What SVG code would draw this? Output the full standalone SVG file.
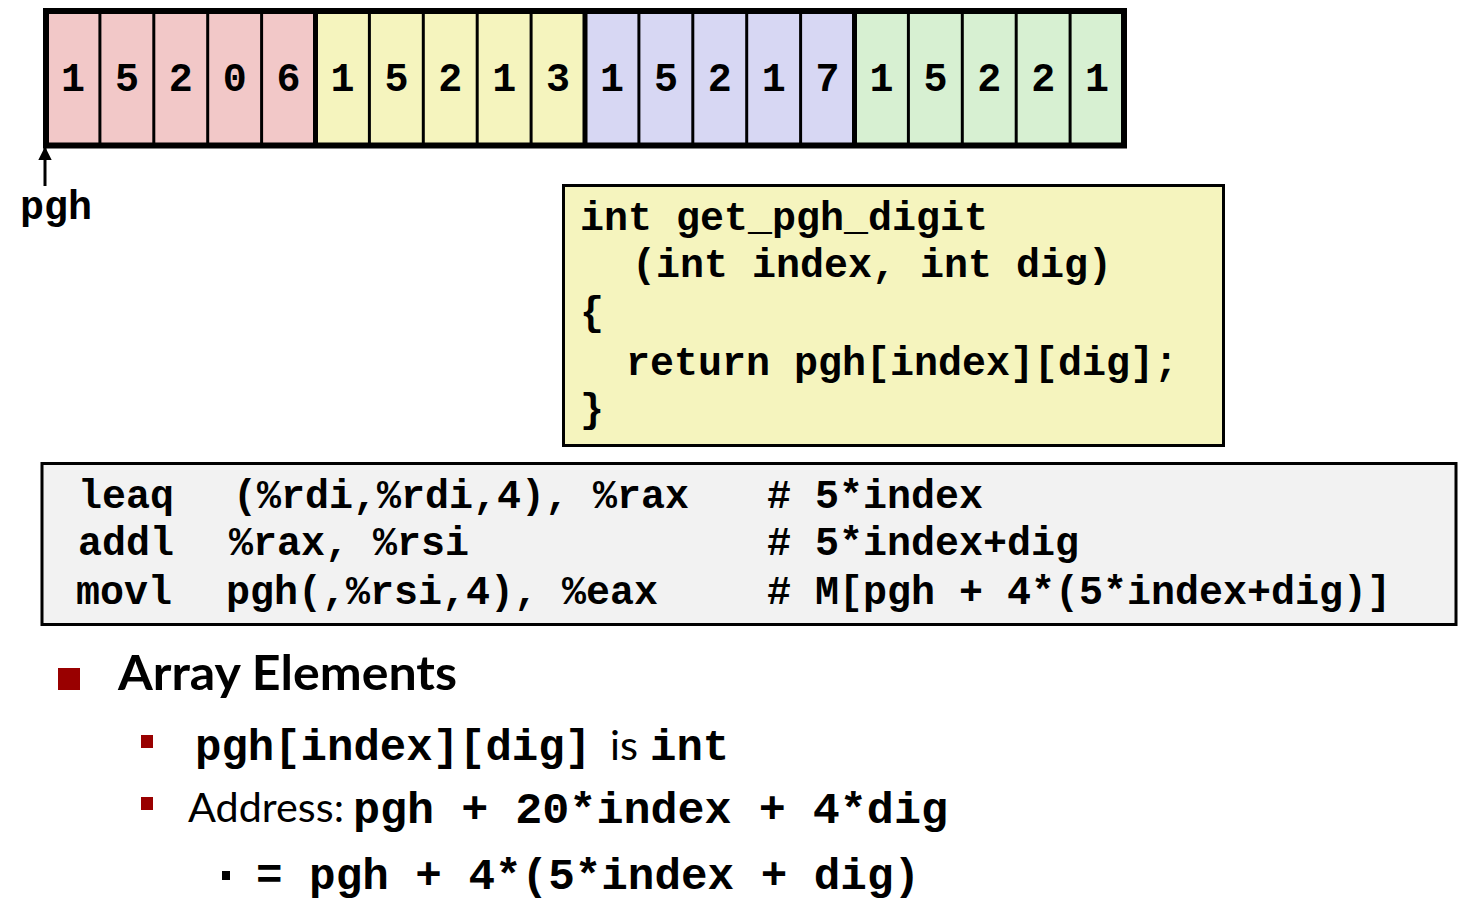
<svg xmlns="http://www.w3.org/2000/svg" width="1463" height="909" viewBox="0 0 1463 909">
<style>
.mono{font-family:"Liberation Mono","Courier New",monospace;font-weight:bold;fill:#000}
.cell{font-size:40px;text-anchor:middle}
.code{font-size:40px}
.big{font-size:44px}
.sans{font-family:Lato,"Open Sans",sans-serif;fill:#000}
.div1{stroke:#000;stroke-width:3}
.div2{stroke:#000;stroke-width:5}
</style>
<defs>
<marker id="ah" viewBox="0 0 10 10" refX="9" refY="5" markerWidth="4.5" markerHeight="4.5" orient="auto">
<path d="M0,0 L10,5 L0,10 z" fill="#000"/>
</marker>
</defs>
<rect width="1463" height="909" fill="#fff"/>

<g id="array">
<rect x="46" y="11" width="269.5" height="134.5" fill="#F2C8C8"/>
<rect x="315.5" y="11" width="269.5" height="134.5" fill="#F5F4BE"/>
<rect x="585" y="11" width="269.5" height="134.5" fill="#D7D7F3"/>
<rect x="854.5" y="11" width="269.5" height="134.5" fill="#D7F0D2"/>
<g>
<line class="div1" x1="99.9" y1="11" x2="99.9" y2="145.5"/>
<line class="div1" x1="153.8" y1="11" x2="153.8" y2="145.5"/>
<line class="div1" x1="207.7" y1="11" x2="207.7" y2="145.5"/>
<line class="div1" x1="261.6" y1="11" x2="261.6" y2="145.5"/>
<line class="div2" x1="315.5" y1="11" x2="315.5" y2="145.5"/>
<line class="div1" x1="369.4" y1="11" x2="369.4" y2="145.5"/>
<line class="div1" x1="423.3" y1="11" x2="423.3" y2="145.5"/>
<line class="div1" x1="477.2" y1="11" x2="477.2" y2="145.5"/>
<line class="div1" x1="531.1" y1="11" x2="531.1" y2="145.5"/>
<line class="div2" x1="585" y1="11" x2="585" y2="145.5"/>
<line class="div1" x1="638.9" y1="11" x2="638.9" y2="145.5"/>
<line class="div1" x1="692.8" y1="11" x2="692.8" y2="145.5"/>
<line class="div1" x1="746.7" y1="11" x2="746.7" y2="145.5"/>
<line class="div1" x1="800.6" y1="11" x2="800.6" y2="145.5"/>
<line class="div2" x1="854.5" y1="11" x2="854.5" y2="145.5"/>
<line class="div1" x1="908.4" y1="11" x2="908.4" y2="145.5"/>
<line class="div1" x1="962.3" y1="11" x2="962.3" y2="145.5"/>
<line class="div1" x1="1016.2" y1="11" x2="1016.2" y2="145.5"/>
<line class="div1" x1="1070.1" y1="11" x2="1070.1" y2="145.5"/>
</g>
<rect x="46" y="11" width="1078" height="134.5" fill="none" stroke="#000" stroke-width="6"/>
<g class="mono cell">
<text x="73" y="91">1</text>
<text x="126.9" y="91">5</text>
<text x="180.8" y="91">2</text>
<text x="234.7" y="91">0</text>
<text x="288.6" y="91">6</text>
<text x="342.5" y="91">1</text>
<text x="396.4" y="91">5</text>
<text x="450.3" y="91">2</text>
<text x="504.2" y="91">1</text>
<text x="558.1" y="91">3</text>
<text x="612" y="91">1</text>
<text x="665.9" y="91">5</text>
<text x="719.8" y="91">2</text>
<text x="773.7" y="91">1</text>
<text x="827.6" y="91">7</text>
<text x="881.5" y="91">1</text>
<text x="935.4" y="91">5</text>
<text x="989.3" y="91">2</text>
<text x="1043.2" y="91">2</text>
<text x="1097.1" y="91">1</text>
</g>
</g>

<g id="pgh-label">
<text class="mono code" x="20" y="219">pgh</text>
</g>

<g id="connectors">
<line x1="45" y1="186" x2="45" y2="148" stroke="#000" stroke-width="3" marker-end="url(#ah)"/>
</g>

<g id="c-code">
<rect x="563.5" y="185.5" width="660" height="260" fill="#F5F4BE" stroke="#000" stroke-width="3"/>
<g class="mono code">
<text x="580" y="230">int get_pgh_digit</text>
<text x="632" y="277">(int index, int dig)</text>
<text x="580" y="325">{</text>
<text x="626" y="375">return pgh[index][dig];</text>
<text x="580" y="422">}</text>
</g>
</g>

<g id="asm">
<rect x="42" y="463.5" width="1414" height="161" fill="#F2F2F2" stroke="#000" stroke-width="3"/>
<g class="mono code">
<text x="78" y="508">leaq</text>
<text x="233" y="508">(%rdi,%rdi,4), %rax</text>
<text x="767" y="508"># 5*index</text>
<text x="78" y="555">addl</text>
<text x="229" y="555">%rax, %rsi</text>
<text x="767" y="555"># 5*index+dig</text>
<text x="76" y="604">movl</text>
<text x="226" y="604">pgh(,%rsi,4), %eax</text>
<text x="767" y="604"># M[pgh + 4*(5*index+dig)]</text>
</g>
</g>

<g id="bullets">
<rect x="58" y="668" width="22" height="22" fill="#990000"/>
<text class="sans" x="118" y="690" font-size="48" font-weight="bold" textLength="339" lengthAdjust="spacingAndGlyphs">Array Elements</text>

<rect x="141" y="735" width="12" height="13" fill="#990000"/>
<text class="mono big" x="195" y="760">pgh[index][dig]</text>
<text class="sans" x="610" y="760" font-size="40" textLength="28" lengthAdjust="spacingAndGlyphs">is</text>
<text class="mono big" x="650" y="760">int</text>

<rect x="141" y="797" width="12" height="13" fill="#990000"/>
<text class="sans" x="188" y="822" font-size="40" textLength="156" lengthAdjust="spacingAndGlyphs">Address:</text>
<text class="mono big" x="353" y="823" textLength="595" lengthAdjust="spacingAndGlyphs">pgh + 20*index + 4*dig</text>

<rect x="222" y="871" width="8" height="9" fill="#000"/>
<text class="mono big" x="256" y="889" textLength="664" lengthAdjust="spacingAndGlyphs">= pgh + 4*(5*index + dig)</text>
</g>
</svg>
